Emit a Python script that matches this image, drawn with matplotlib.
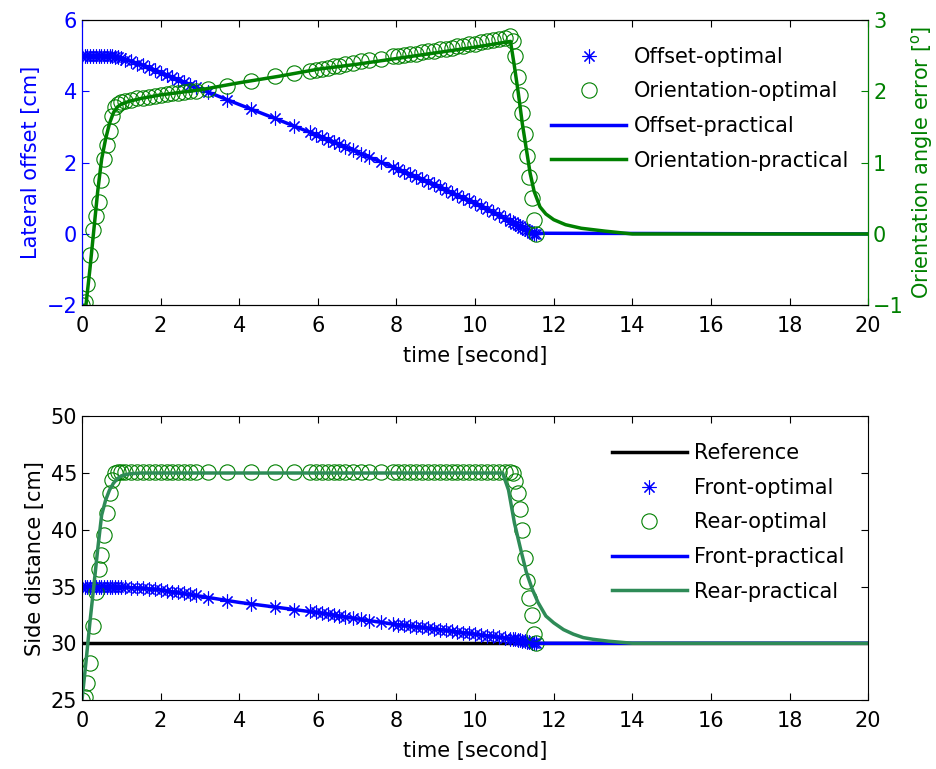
import matplotlib
matplotlib.use("Agg")
import matplotlib.pyplot as plt

plt.rcParams['font.family'] = ['DejaVu Sans']
plt.rcParams['font.size'] = 15
plt.rcParams['mathtext.default'] = 'regular'

# time samples of the optimal solution (markers)
t_opt = [0.0, 0.07, 0.14, 0.21, 0.28, 0.35, 0.42, 0.49, 0.56, 0.63, 0.7, 0.77, 0.84, 0.91, 1.0,
         1.1, 1.25, 1.4, 1.55, 1.7, 1.85, 2.0, 2.15, 2.3, 2.45, 2.6, 2.75, 2.9,
         3.2, 3.7, 4.3, 4.9, 5.4,
         5.8, 5.95, 6.1, 6.25, 6.4, 6.55, 6.7, 6.9, 7.1, 7.3, 7.6, 7.9, 8.05, 8.2, 8.35, 8.5,
         8.65, 8.8, 8.95, 9.1, 9.25, 9.4, 9.55, 9.7, 9.85, 10.0, 10.15, 10.3, 10.45, 10.6, 10.75, 10.9,
         10.96, 11.02, 11.08, 11.14, 11.2, 11.26, 11.32, 11.38, 11.44, 11.5, 11.55]

offset_opt = [5.0, 5.0, 5.0, 5.0, 5.0, 5.0, 5.0, 5.0, 5.0, 5.0, 5.0, 4.98, 4.96, 4.95, 4.93,
              4.89, 4.84, 4.78, 4.73, 4.66, 4.59, 4.52, 4.45, 4.39, 4.32, 4.25, 4.18, 4.11,
              3.98, 3.76, 3.50, 3.24, 3.02,
              2.85, 2.78, 2.71, 2.64, 2.57, 2.51, 2.44, 2.35, 2.25, 2.16, 2.02, 1.88, 1.81, 1.74, 1.67, 1.60,
              1.53, 1.46, 1.39, 1.31, 1.24, 1.16, 1.09, 1.01, 0.94, 0.86, 0.78, 0.69, 0.61, 0.52, 0.44, 0.36,
              0.33, 0.29, 0.26, 0.22, 0.18, 0.14, 0.11, 0.07, 0.04, 0.01, 0.0]

orient_opt = [-1.0, -0.95, -0.7, -0.3, 0.05, 0.25, 0.45, 0.75, 1.05, 1.25, 1.45, 1.65, 1.78, 1.82, 1.85,
              1.86, 1.88, 1.9, 1.91, 1.92, 1.93, 1.95, 1.96, 1.97, 1.98, 1.99, 2.0, 2.01,
              2.03, 2.08, 2.15, 2.21, 2.26,
              2.28, 2.3, 2.31, 2.33, 2.35, 2.36, 2.38, 2.4, 2.42, 2.44, 2.46, 2.49, 2.5, 2.51, 2.52, 2.53,
              2.55, 2.56, 2.57, 2.59, 2.6, 2.61, 2.63, 2.64, 2.66, 2.67, 2.69, 2.7, 2.72, 2.74, 2.75, 2.77,
              2.7, 2.5, 2.2, 1.95, 1.7, 1.4, 1.1, 0.8, 0.5, 0.2, 0.0]

front_opt = [35.0, 35.0, 35.0, 35.0, 35.0, 35.0, 35.0, 35.0, 35.0, 35.0, 35.0, 34.99, 34.98, 34.97, 34.95,
             34.93, 34.89, 34.87, 34.84, 34.8, 34.75, 34.7, 34.63, 34.55, 34.48, 34.4, 34.32, 34.22,
             34.0, 33.72, 33.48, 33.2, 32.97,
             32.8, 32.72, 32.65, 32.58, 32.5, 32.42, 32.33, 32.2, 32.1, 32.0, 31.85, 31.7, 31.63, 31.57, 31.5, 31.45,
             31.39, 31.33, 31.27, 31.2, 31.14, 31.07, 31.0, 30.94, 30.87, 30.8, 30.73, 30.66, 30.6, 30.53, 30.47, 30.4,
             30.37, 30.34, 30.31, 30.27, 30.22, 30.17, 30.12, 30.08, 30.04, 30.0, 30.0]

rear_opt = [25.0, 25.3, 26.5, 28.3, 31.5, 34.5, 36.5, 37.8, 39.5, 41.5, 43.2, 44.4, 45.0, 45.1, 45.1,
            45.1, 45.1, 45.1, 45.1, 45.1, 45.1, 45.1, 45.1, 45.1, 45.1, 45.1, 45.1, 45.1,
            45.1, 45.1, 45.1, 45.1, 45.1,
            45.1, 45.1, 45.1, 45.1, 45.1, 45.1, 45.1, 45.1, 45.1, 45.1, 45.1, 45.1, 45.1, 45.1, 45.1, 45.1,
            45.1, 45.1, 45.1, 45.1, 45.1, 45.1, 45.1, 45.1, 45.1, 45.1, 45.1, 45.1, 45.1, 45.1, 45.1, 45.1,
            45.0, 44.3, 43.2, 41.8, 40.0, 37.5, 35.5, 34.0, 32.5, 30.8, 30.0]

# practical (measured) curves
t_off_pr = [0, 0.5, 0.8, 1.0, 1.5, 2.0, 3.0, 4.0, 5.0, 6.0, 7.0, 8.0, 9.0, 10.0, 11.0, 11.5, 11.7, 20]
offset_pr = [5.0, 5.0, 4.97, 4.93, 4.75, 4.52, 4.07, 3.63, 3.2, 2.76, 2.3, 1.83, 1.36, 0.86, 0.3, 0.0, 0.02, 0.0]

t_ori_pr = [0, 0.1, 0.2, 0.3, 0.4, 0.5, 0.6, 0.7, 0.8, 0.9, 1.0, 1.2, 1.5, 2.0, 3.0, 4.0, 5.0, 6.0,
            7.0, 8.0, 9.0, 10.0, 10.9, 11.0, 11.1, 11.2, 11.3, 11.4, 11.5, 11.65, 11.8, 12.0, 12.3,
            12.7, 13.3, 14.0, 20]
orient_pr = [-1.0, -1.0, -0.5, 0.05, 0.6, 1.05, 1.33, 1.55, 1.7, 1.78, 1.82, 1.86, 1.9, 1.95, 2.02,
             2.12, 2.21, 2.31, 2.38, 2.46, 2.54, 2.62, 2.7, 2.35, 1.97, 1.55, 1.2, 0.85, 0.6, 0.38,
             0.28, 0.2, 0.13, 0.08, 0.04, 0.0, 0.0]

t_front_pr = [0, 0.5, 1.0, 1.5, 2.0, 3.0, 4.0, 5.0, 6.0, 7.0, 8.0, 9.0, 10.0, 11.0, 11.5, 20]
front_pr = [35.0, 35.0, 34.95, 34.85, 34.7, 34.15, 33.6, 33.15, 32.7, 32.15, 31.65, 31.25, 30.8, 30.35, 30.0, 30.0]

t_rear_pr = [0, 0.1, 0.2, 0.3, 0.4, 0.5, 0.6, 0.7, 0.8, 0.9, 1.0, 1.2, 1.5, 10.7, 10.85, 11.0, 11.15,
             11.3, 11.45, 11.6, 11.8, 12.0, 12.25, 12.5, 12.75, 13.0, 13.4, 14.0, 20]
rear_pr = [25.0, 28.3, 31.8, 35.0, 38.3, 41.3, 42.6, 43.5, 44.1, 44.5, 44.75, 44.93, 45.0, 45.0, 43.5,
           40.6, 38.4, 36.3, 34.8, 33.6, 32.4, 31.8, 31.2, 30.8, 30.5, 30.35, 30.18, 30.0, 30.0]

t_ref = [0, 20]
ref = [30, 30]

blue = (0, 0, 1)
green = (0, 0.5, 0)
seagreen = (0.18, 0.545, 0.34)
star = (8, 2, 0)

fig = plt.figure(figsize=(9.36, 7.69), dpi=100)

# ---- top panel ----
ax1 = fig.add_axes([0.0876, 0.603, 0.840, 0.371])
ax2 = ax1.twinx()
h1, = ax1.plot(t_opt, offset_opt, ls='none', marker=star, ms=10, mew=0.8, color=blue, label='Offset-optimal')
h3, = ax1.plot(t_off_pr, offset_pr, color=blue, lw=2.5, label='Offset-practical')
h2, = ax2.plot(t_opt, orient_opt, ls='none', marker='o', ms=11, mew=0.8, mfc='none', color=green,
               label='Orientation-optimal')
h4, = ax2.plot(t_ori_pr, orient_pr, color=green, lw=2.5, label='Orientation-practical')

ax1.set_xlim(0, 20)
ax1.set_ylim(-2, 6)
ax2.set_ylim(-1, 3)
ax1.set_xticks(range(0, 21, 2))
ax1.set_yticks([-2, 0, 2, 4, 6])
ax2.set_yticks([-1, 0, 1, 2, 3])
ax1.set_xlabel('time [second]', labelpad=7)
ax1.set_ylabel('Lateral offset [cm]', color=blue)
ax2.set_ylabel('Orientation angle error [$^{o}$]', color=green)
ax1.tick_params(axis='y', colors=blue, direction='in', length=5)
ax1.tick_params(axis='x', direction='in', length=5, top=True, pad=8)
ax2.tick_params(axis='y', colors=green, direction='in', length=5)
ax1.spines['left'].set_color(blue)
ax2.spines['left'].set_color(blue)
ax2.spines['right'].set_color(green)
for s in ax2.spines.values():
    s.set_linewidth(0.8)

ax2.legend(handles=[h1, h2, h3, h4], loc='upper left', bbox_to_anchor=(0.597, 0.906),
           frameon=False, borderaxespad=0, borderpad=0, handlelength=3.6, handletextpad=0.35,
           labelspacing=0.7, fontsize=15)

# ---- bottom panel ----
ax3 = fig.add_axes([0.0876, 0.0897, 0.840, 0.369])
ax3.plot(t_ref, ref, color='black', lw=2.5, label='Reference')
ax3.plot(t_opt, front_opt, ls='none', marker=star, ms=10, mew=0.8, color=blue, label='Front-optimal')
ax3.plot(t_opt, rear_opt, ls='none', marker='o', ms=11, mew=0.8, mfc='none', color=green, label='Rear-optimal')
ax3.plot(t_front_pr, front_pr, color=blue, lw=2.5, label='Front-practical')
ax3.plot(t_rear_pr, rear_pr, color=seagreen, lw=2.5, label='Rear-practical')
ax3.set_xlim(0, 20)
ax3.set_ylim(25, 50)
ax3.set_xticks(range(0, 21, 2))
ax3.set_yticks([25, 30, 35, 40, 45, 50])
ax3.set_xlabel('time [second]', labelpad=7)
ax3.set_ylabel('Side distance [cm]')
ax3.tick_params(direction='in', length=5, top=True, right=True)
ax3.tick_params(axis='x', pad=8)
for s in ax3.spines.values():
    s.set_linewidth(0.8)
ax3.legend(loc='upper left', bbox_to_anchor=(0.674, 0.905), frameon=False, borderaxespad=0,
           borderpad=0, handlelength=3.6, handletextpad=0.35, labelspacing=0.7, fontsize=15)

fig.savefig('out.png', dpi=100)
